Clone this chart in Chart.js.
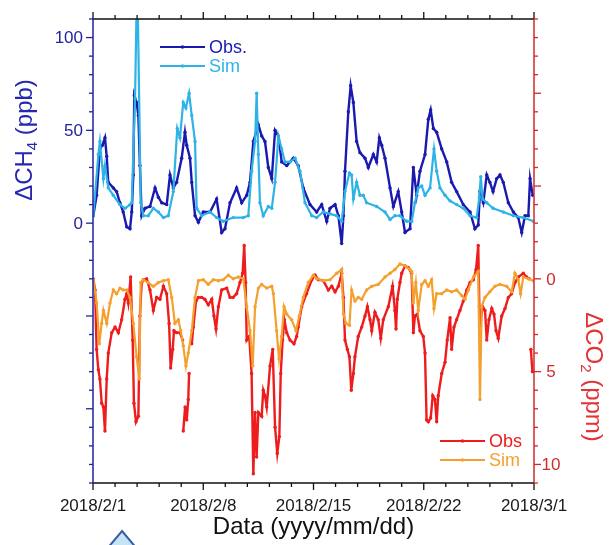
<!DOCTYPE html>
<html>
<head>
<meta charset="utf-8">
<script src="https://cdn.jsdelivr.net/npm/chart.js@4.4.1/dist/chart.umd.min.js"></script>
<style>
  html, body { margin: 0; padding: 0; background: #ffffff; }
  #wrap { width: 611px; height: 545px; position: relative; }
</style>
</head>
<body>
<div id="wrap"><canvas id="c" width="611" height="545"></canvas></div>
<script>
// ---------- tick labels ----------
const xTickDays   = [0, 7, 14, 21, 28];
const xTickLabels = ['2018/2/1', '2018/2/8', '2018/2/15', '2018/2/22', '2018/3/1'];
const ch4TickLabels = [0, 50, 100];
const co2TickLabels = [0, 5, 10];

// ---------- ΔCH4 (ppb), days since 2018/2/1 ----------
const ch4ObsT = [0.02,0.23,0.44,0.6,0.76,0.87,0.97,1.29,1.5,1.71,1.92,2.14,2.35,2.46,2.56,2.62,2.77,2.88,2.98,3.09,3.3,3.62,3.94,4.15,4.36,4.68,4.89,5.1,5.31,5.63,5.84,5.95,6.16,6.27,6.48,6.69,7.0,7.43,7.85,8.17,8.38,8.7,9.12,9.44,9.76,9.97,10.18,10.5,10.71,10.92,11.13,11.35,11.56,11.77,11.98,12.3,12.72,13.03,13.35,13.78,14.2,14.52,14.84,15.05,15.37,15.58,15.79,15.9,16.0,16.21,16.36,16.53,16.74,16.95,17.27,17.48,17.8,18.01,18.18,18.33,18.54,18.86,19.07,19.38,19.6,19.81,20.13,20.34,20.55,20.76,21.08,21.29,21.44,21.61,21.82,22.14,22.46,22.77,23.09,23.51,23.94,24.25,24.46,24.57,24.78,25.0,25.2,25.4,25.63,25.84,26.05,26.37,26.69,27.0,27.22,27.43,27.64,27.75,27.92];
const ch4ObsV = [4,15,40,42,46,36,22,19,17,11,6,-2,-3,6,26,69,65,58,31,4,8,9,19,14,11,10,26,19,22,35,49,42,35,22,4,0.5,6,6,13,-5,-3,11,19,11,15,22,44,53,47,44,30,24,50,47,33,31,35,31,19,10,6,10,1,8,10,4,-11,4,28,60,74,65,44,38,35,30,37,33,46,42,35,19,9,17,6,-5,-3,30,15,28,37,56,61,51,49,40,33,22,17,10,6,-3,-1,17,11,26,22,17,24,26,22,11,6,3,-5,4,4,24,15];

const ch4SimT = [0.02,0.34,0.44,0.66,0.76,0.97,1.29,1.71,2.03,2.35,2.46,2.67,2.77,2.84,3.03,3.2,3.51,3.83,4.15,4.47,4.78,5.1,5.35,5.52,5.73,5.9,6.1,6.27,6.48,6.58,6.9,7.43,7.85,8.27,8.9,9.54,9.86,10.07,10.29,10.39,10.5,10.6,10.81,11.13,11.35,11.56,11.77,11.98,12.19,12.51,12.83,13.14,13.46,13.89,14.2,14.62,15.05,15.47,15.79,16.0,16.28,16.42,16.53,16.74,16.95,17.16,17.37,18.01,18.54,18.86,19.17,19.49,19.92,20.24,20.44,20.65,20.87,21.08,21.4,21.65,21.82,22.03,22.35,22.67,23.09,23.51,23.94,24.36,24.53,24.62,24.74,25.0,25.4,26.05,26.69,27.32,27.96];
const ch4SimV = [4,37,44,24,31,19,15,10,8,10,11,67,118,118,11,4,4,8,6,3,4,17,51,46,65,62,70,58,44,8,4,6,3,1,3,3,4,28,44,70,37,11,4,9,8,22,47,40,33,33,35,28,11,4,3,6,5,4,1,17,27,26,13,22,15,15,11,9,6,2,4,4,1,1,11,19,20,15,19,40,28,19,15,12,10,8,4,3,14,25,13,11,8,6,4,3,1];

// ---------- ΔCO2 (ppm), days since 2018/2/1 ----------
const co2ObsT = [0.02,0.13,0.23,0.34,0.44,0.55,0.66,0.76,0.87,0.97,1.19,1.4,1.61,1.82,2.03,2.14,2.24,2.39,2.52,2.6,2.73,2.88,2.98,3.09,3.2,3.41,3.62,3.83,4.04,4.25,4.47,4.68,4.83,4.93,5.06,5.14,5.31,5.52,5.69,5.71,5.73,5.85,5.95,6.05,6.1,6.18,6.27,6.37,6.54,6.69,6.9,7.1,7.32,7.54,7.68,7.81,7.96,8.17,8.49,8.7,8.9,9.12,9.33,9.5,9.6,9.69,9.76,9.92,10.07,10.18,10.29,10.39,10.5,10.71,10.81,10.92,11.03,11.24,11.41,11.56,11.7,11.83,11.92,12.04,12.15,12.3,12.51,12.76,12.93,13.03,13.25,13.56,13.89,14.1,14.31,14.62,14.94,15.16,15.37,15.58,15.79,15.9,16.0,16.15,16.28,16.4,16.53,16.63,16.84,17.06,17.27,17.42,17.59,17.7,17.9,18.11,18.27,18.43,18.75,19.02,19.17,19.24,19.32,19.49,19.6,19.81,20.02,20.23,20.34,20.44,20.59,20.76,20.97,21.08,21.18,21.29,21.44,21.57,21.71,21.82,21.92,22.14,22.35,22.49,22.67,22.77,22.92,23.09,23.3,23.51,23.73,23.94,24.15,24.32,24.46,24.53,24.62,24.74,24.89,25.0,25.14,25.32,25.46,25.59,25.73,25.95,26.16,26.37,26.58,26.79,27.0,27.32,27.53,27.7,27.75,27.8,27.9];
const co2ObsV = [0,0.6,3.8,4.9,5.4,6.7,6.9,8.2,5.4,4.0,2.9,2.6,2.9,2.2,1.1,0.8,1.3,-0.1,3.3,6.7,7.7,7.4,2.0,0.2,0.05,0,0.6,1.7,1.0,1.1,0.4,0.8,2.4,4.8,3.8,2.8,2.9,2.9,3.3,null,8.2,6.9,7.6,6.5,5.1,null,3.5,2.6,1.2,1.0,1.0,1.1,1.4,1.1,2.0,2.7,1.5,0.6,0.5,1.0,1.0,0.8,0.2,-0.3,-1.8,0.2,3.3,3.1,5.1,10.5,7.2,9.6,7.2,7.4,6.0,6.3,6.9,4.7,3.8,8.0,9.4,8.5,5.1,3.3,2.2,2.9,3.3,3.5,3.1,2.6,1.5,0.8,0.05,-0.2,0.05,0.1,0.6,0.4,0.7,0.4,-0.3,1.0,3.3,3.8,4.2,6.0,5.1,4.2,3.1,2.6,2.0,1.5,2.2,2.8,1.8,2.2,3.2,2.2,1.5,0.4,1.7,2.7,1.1,0.2,-0.3,-0.7,-0.6,-0.3,2.9,2.0,1.9,2.8,3.1,4.0,7.6,7.7,7.5,6.3,6.5,7.7,6.3,5.1,4.5,3.3,2.1,3.8,2.6,2.2,1.7,1.2,0.6,0.2,0.05,-0.5,-1.8,1.5,2.2,1.5,1.7,3.3,2.2,1.6,1.9,2.8,3.2,2.0,1.6,1.0,0.8,0.2,-0.1,-0.3,-0.1,0,null,3.8,5.0];

const co2SimT = [0.02,0.23,0.4,0.55,0.66,0.87,1.08,1.29,1.5,1.71,1.92,2.14,2.35,2.56,2.77,2.94,3.03,3.2,3.51,3.83,4.15,4.47,4.78,5.0,5.2,5.42,5.57,5.73,5.9,6.05,6.27,6.48,6.69,7.0,7.32,7.64,7.96,8.27,8.59,8.9,9.22,9.54,9.76,9.97,10.14,10.29,10.5,10.71,11.03,11.35,11.45,11.66,11.81,11.98,12.13,12.3,12.61,12.89,13.1,13.35,13.67,13.99,14.2,14.62,15.05,15.47,15.79,15.9,16.06,16.28,16.42,16.63,16.84,17.06,17.37,17.7,18.11,18.54,18.86,19.17,19.49,19.81,20.13,20.23,20.34,20.5,20.65,20.87,21.08,21.29,21.5,21.65,21.82,22.14,22.46,22.77,23.09,23.41,23.62,23.83,24.15,24.46,24.57,24.68,24.89,25.2,25.52,25.84,26.26,26.58,26.79,27.0,27.15,27.32,27.64,27.96];
const co2SimV = [0.05,1.3,3.5,2.4,1.7,2.4,1.3,0.6,0.8,0.5,0.6,0.6,1.0,2.4,4.2,5.4,0.2,0.05,0.2,0.4,0.2,0.1,0.05,1.0,2.4,2.2,2.8,3.6,4.7,4.0,2.8,1.0,0.1,0.05,0.3,0.05,0.1,0.05,-0.2,0,-0.1,0,1.5,2.8,4.7,1.5,0.5,0.3,0.5,0.4,0.8,2.8,4.3,3.1,1.5,1.9,2.2,2.8,2.0,1.0,0.2,-0.2,0,0.1,0.05,-0.3,-0.5,1.9,2.4,2.5,0.6,1.2,1.0,1.1,0.6,0.4,0.3,-0.1,-0.3,-0.5,-0.8,-0.7,-0.5,-0.4,1.3,0.2,1.7,0.3,0.1,0.4,0.05,1.6,0.8,0.8,0.6,0.7,0.6,0.9,1.1,0.6,-0.1,-0.4,6.5,1.5,1.0,0.7,0.4,0.3,0.4,0.7,-0.3,0.05,0.8,-0.1,0,0.1];

// ---------- axis ranges ----------
const xRange   = [0, 28];
const ch4Range = [-140, 110];
const co2Range = [-14, 11];

const COL = {
  ch4Obs: '#1a1ab0', ch4Sim: '#2db3e6',
  co2Obs: '#ee1c1c', co2Sim: '#f5a02e',
  leftAxis: '#22229c', rightAxis: '#d02a2a',
  leftText: '#2626b0', rightText: '#e23434'
};
const FONT = "'Liberation Sans', Arial, sans-serif";

function pts(t, v) { return t.map((x, i) => ({ x: x, y: v[i] })); }

function ds(label, t, v, axis, color, order, w) {
  return {
    label: label, data: pts(t, v), yAxisID: axis, order: order,
    borderColor: color, backgroundColor: color, borderWidth: w,
    pointRadius: 1.7, pointBorderWidth: 0, pointBackgroundColor: color,
    tension: 0, spanGaps: false, fill: false
  };
}

function line(ctx, x1, y1, x2, y2) {
  ctx.beginPath(); ctx.moveTo(x1, y1); ctx.lineTo(x2, y2); ctx.stroke();
}

// draws main + subscript + rest, centered at (cx, cy), rotated by angle
function subTitle(ctx, cx, cy, angle, a, sub, b, color) {
  ctx.save();
  ctx.translate(cx, cy);
  ctx.rotate(angle);
  ctx.fillStyle = color;
  ctx.textBaseline = 'alphabetic';
  ctx.textAlign = 'left';
  const big = '24px ' + FONT, small = '15px ' + FONT;
  ctx.font = big; const wa = ctx.measureText(a).width; const wb = ctx.measureText(b).width;
  ctx.font = small; const ws = ctx.measureText(sub).width;
  let x0 = -(wa + ws + wb) / 2;
  const base = 8;
  ctx.font = big; ctx.fillText(a, x0, base);
  ctx.font = small; ctx.fillText(sub, x0 + wa, base + 5);
  ctx.font = big; ctx.fillText(b, x0 + wa + ws, base);
  ctx.restore();
}

const framePlugin = {
  id: 'frame',
  afterDraw(chart) {
    const ctx = chart.ctx, a = chart.chartArea;
    const xs = chart.scales.x, yl = chart.scales.yL, yr = chart.scales.yR;
    ctx.save();
    ctx.lineCap = 'butt';

    // x ticks (top and bottom, outward)
    ctx.strokeStyle = '#111111'; ctx.lineWidth = 1.3;
    for (let i = 0; i <= 20; i++) {
      const px = xs.getPixelForValue(i * 1.4);
      const len = (i % 5 === 0) ? 7 : 4;
      line(ctx, px, a.top - len, px, a.top);
      line(ctx, px, a.bottom, px, a.bottom + len);
    }
    // top / bottom axis lines
    ctx.lineWidth = 1.5;
    line(ctx, a.left, a.top, a.right, a.top);
    line(ctx, a.left, a.bottom, a.right, a.bottom);

    // left axis
    ctx.strokeStyle = COL.leftAxis; ctx.lineWidth = 1.3;
    for (let v = ch4Range[0]; v <= ch4Range[1]; v += 10) {
      const py = yl.getPixelForValue(v);
      const len = (v % 50 === 0) ? 7 : 4;
      line(ctx, a.left - len, py, a.left, py);
    }
    ctx.lineWidth = 1.5;
    line(ctx, a.left, a.top, a.left, a.bottom);

    // right axis
    ctx.strokeStyle = COL.rightAxis; ctx.lineWidth = 1.3;
    for (let v = co2Range[0]; v <= co2Range[1]; v += 1) {
      const py = yr.getPixelForValue(v);
      const len = (v % 5 === 0) ? 7 : 4;
      line(ctx, a.right, py, a.right + len, py);
    }
    ctx.lineWidth = 1.5;
    line(ctx, a.right, a.top, a.right, a.bottom);

    // tick labels
    ctx.font = '17px ' + FONT;
    ctx.textBaseline = 'middle';
    ctx.fillStyle = COL.leftAxis; ctx.textAlign = 'right';
    ch4TickLabels.forEach(v => ctx.fillText(String(v), a.left - 10, yl.getPixelForValue(v) + 1));
    ctx.fillStyle = COL.rightAxis; ctx.textAlign = 'center';
    co2TickLabels.forEach(v => ctx.fillText(String(v), a.right + 17, yr.getPixelForValue(v) + 1));
    ctx.fillStyle = '#1a1a1a'; ctx.textAlign = 'center'; ctx.textBaseline = 'alphabetic';
    xTickDays.forEach((d, k) => ctx.fillText(xTickLabels[k], xs.getPixelForValue(d), a.bottom + 28));

    // axis titles
    ctx.font = '24px ' + FONT; ctx.fillStyle = '#111111'; ctx.textAlign = 'center';
    ctx.fillText('Data (yyyy/mm/dd)', (a.left + a.right) / 2, a.bottom + 51);
    subTitle(ctx, 24, 140, -Math.PI / 2, '\u0394CH', '4', ' (ppb)', COL.leftText);
    subTitle(ctx, 594, 377, Math.PI / 2, '\u0394CO', '2', ' (ppm)', COL.rightText);

    // legends
    const legend = (x1, x2, y, color, text) => {
      ctx.strokeStyle = color; ctx.lineWidth = 2.2;
      line(ctx, x1, y, x2, y);
      ctx.fillStyle = color;
      ctx.beginPath(); ctx.arc((x1 + x2) / 2, y, 1.8, 0, Math.PI * 2); ctx.fill();
      ctx.font = '18px ' + FONT; ctx.textAlign = 'left'; ctx.textBaseline = 'middle';
      ctx.fillText(text, x2 + 4, y + 1);
    };
    legend(160, 205, 47, COL.ch4Obs, 'Obs.');
    legend(160, 205, 66, COL.ch4Sim, 'Sim');
    legend(440, 485, 441, COL.co2Obs, 'Obs');
    legend(440, 485, 460, COL.co2Sim, 'Sim');

    // partial arrow shape at the bottom edge
    ctx.beginPath();
    ctx.moveTo(122, 531); ctx.lineTo(138, 550); ctx.lineTo(106, 550); ctx.closePath();
    ctx.fillStyle = '#c6e4f7'; ctx.fill();
    ctx.strokeStyle = '#3a5ca0'; ctx.lineWidth = 2; ctx.stroke();

    ctx.restore();
  }
};

new Chart(document.getElementById('c'), {
  type: 'line',
  data: {
    datasets: [
      ds('Sim CH4', ch4SimT, ch4SimV, 'yL', COL.ch4Sim, 1, 2.2),
      ds('Obs CH4', ch4ObsT, ch4ObsV, 'yL', COL.ch4Obs, 2, 2.4),
      ds('Sim CO2', co2SimT, co2SimV, 'yR', COL.co2Sim, 1, 2.2),
      ds('Obs CO2', co2ObsT, co2ObsV, 'yR', COL.co2Obs, 2, 2.4)
    ]
  },
  options: {
    responsive: false,
    animation: false,
    devicePixelRatio: 1,
    layout: { padding: { left: 93, right: 77, top: 19, bottom: 62 } },
    plugins: { legend: { display: false }, tooltip: { enabled: false } },
    scales: {
      x:  { type: 'linear', min: xRange[0], max: xRange[1], display: false },
      yL: { type: 'linear', position: 'left', min: ch4Range[0], max: ch4Range[1], display: false },
      yR: { type: 'linear', position: 'right', min: co2Range[0], max: co2Range[1], reverse: true, display: false }
    }
  },
  plugins: [framePlugin]
});
</script>
</body>
</html>
